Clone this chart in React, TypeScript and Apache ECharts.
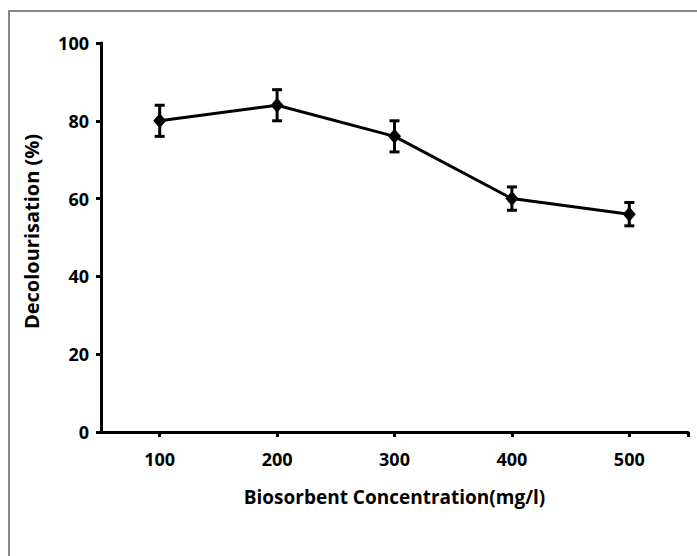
import React, { useEffect, useRef } from "react";
import * as echarts from "echarts";

const concentrations = [100, 200, 300, 400, 500];
const decolourisation = [80, 84, 76, 60, 56];
const errors = [4, 4, 4, 3, 3];
const yTicks = [0, 20, 40, 60, 80, 100];

export default function App() {
  const ref = useRef<HTMLDivElement>(null);
  useEffect(() => {
    document.body.style.margin = "0";
    const chart = echarts.init(ref.current!, null, { renderer: "svg" });
    const font = "'Open Sans', sans-serif";
    const lineData = concentrations.map((c, i) => [c, decolourisation[i]]);
    const errData = concentrations.map((c, i) => [c, decolourisation[i] - errors[i], decolourisation[i] + errors[i]]);
    chart.setOption({
      animation: false,
      backgroundColor: "#ffffff",
      graphic: [
        {
          type: "rect",
          shape: { x: 9, y: 11, width: 800, height: 800 },
          style: { fill: "none", stroke: "#888888", lineWidth: 2 },
          silent: true,
        },
      ],
      grid: { left: 101, right: 9, top: 43, bottom: 124 },
      xAxis: {
        type: "value",
        min: 50,
        max: 550,
        interval: 50,
        name: "Biosorbent Concentration(mg/l)",
        nameLocation: "middle",
        nameGap: 55,
        nameTextStyle: { fontFamily: font, fontWeight: "bold", fontSize: 19, color: "#000" },
        axisLine: { show: true, lineStyle: { color: "#000", width: 3 } },
        axisTick: { show: true, inside: false, length: 5, lineStyle: { color: "#000", width: 3 }, customValues: [100, 200, 300, 400, 500, 550] },
        axisLabel: {
          customValues: concentrations,
          fontFamily: font,
          fontWeight: "bold",
          fontSize: 18,
          color: "#000",
          margin: 18,
        },
        splitLine: { show: false },
      },
      yAxis: {
        type: "value",
        min: 0,
        max: 100,
        interval: 20,
        name: "Decolourisation (%)",
        nameLocation: "middle",
        nameGap: 60,
        nameTextStyle: { fontFamily: font, fontWeight: "bold", fontSize: 20, color: "#000", padding: [0, 0, 0, 12] },
        axisLine: { show: true, lineStyle: { color: "#000", width: 3 } },
        axisTick: { show: true, length: 5, lineStyle: { color: "#000", width: 3 } },
        axisLabel: {
          fontFamily: font,
          fontWeight: "bold",
          fontSize: 18,
          color: "#000",
          margin: 12,
          formatter: (v: number) => (yTicks.includes(v) ? String(v) : ""),
        },
        splitLine: { show: false },
      },
      series: [
        {
          type: "line",
          data: lineData,
          symbol: "diamond",
          symbolSize: [13, 15],
          lineStyle: { color: "#000", width: 3 },
          itemStyle: { color: "#000" },
          z: 3,
        },
        {
          type: "custom",
          data: errData,
          z: 4,
          renderItem: (params: any, api: any) => {
            const x = api.value(0);
            const lo = api.coord([x, api.value(1)]);
            const hi = api.coord([x, api.value(2)]);
            const w = 5;
            const style = { stroke: "#000", lineWidth: 3 };
            return {
              type: "group",
              children: [
                { type: "line", shape: { x1: lo[0], y1: lo[1], x2: hi[0], y2: hi[1] }, style },
                { type: "line", shape: { x1: lo[0] - w, y1: lo[1], x2: lo[0] + w, y2: lo[1] }, style },
                { type: "line", shape: { x1: hi[0] - w, y1: hi[1], x2: hi[0] + w, y2: hi[1] }, style },
              ],
            };
          },
        },
      ],
    });
    return () => chart.dispose();
  }, []);
  return <div ref={ref} style={{ width: 697, height: 556 }} />;
}
